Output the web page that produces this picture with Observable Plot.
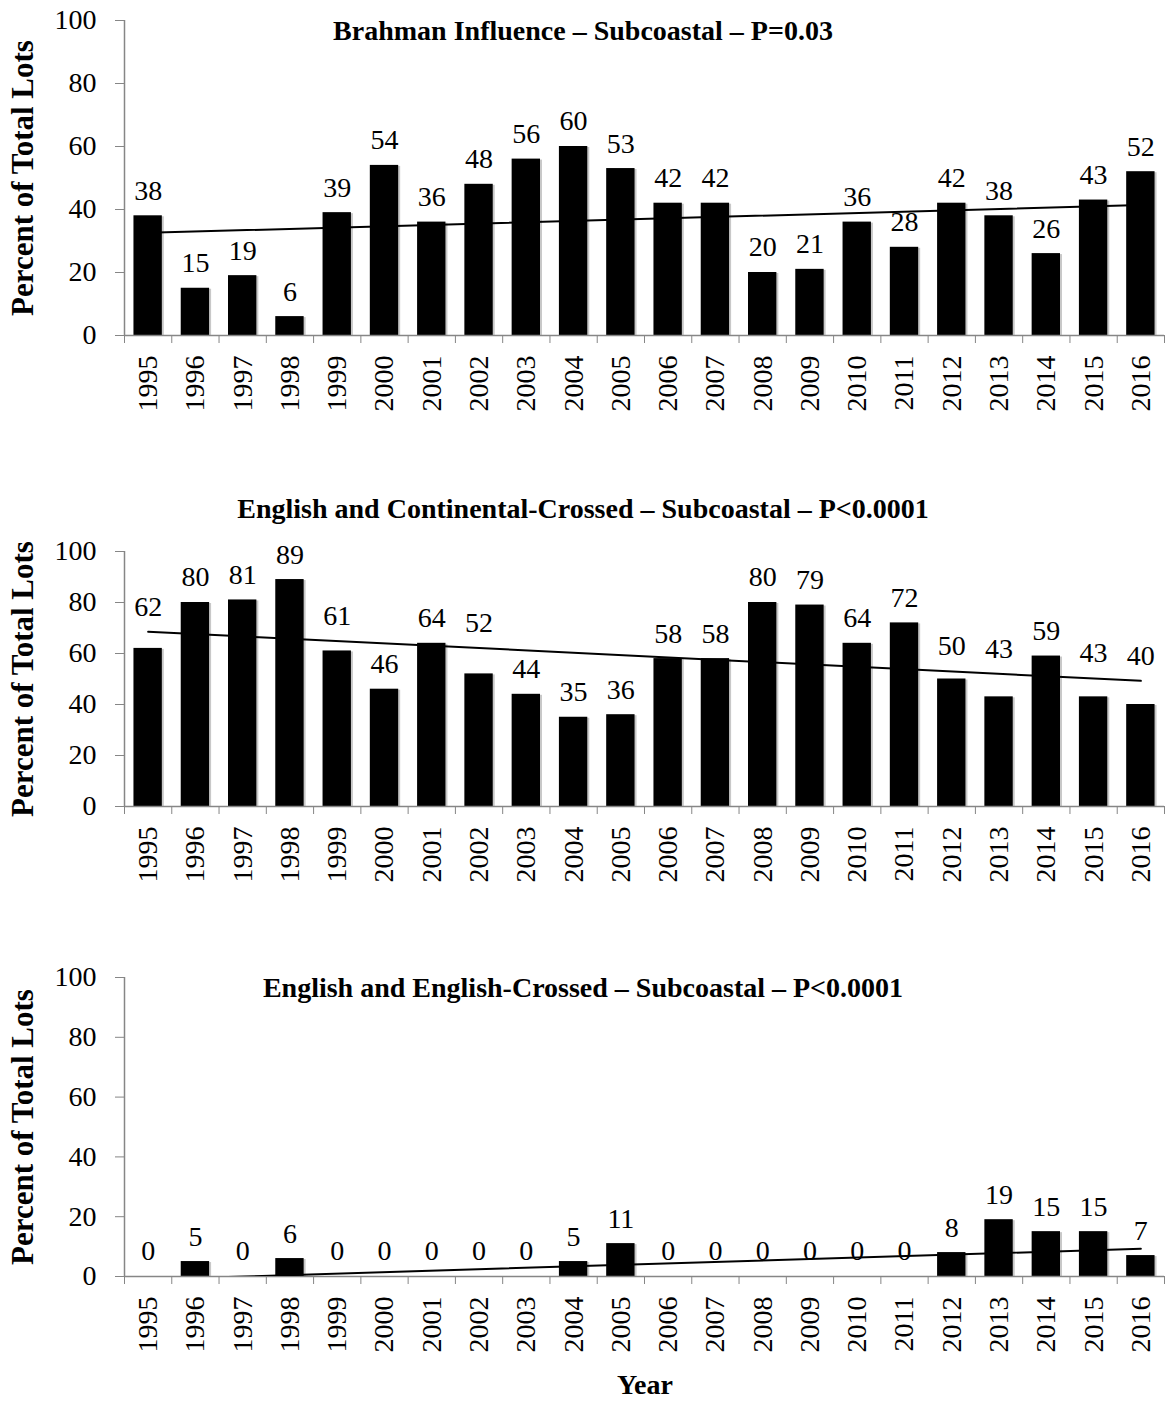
<!DOCTYPE html>
<html><head><meta charset="utf-8">
<script src="https://cdn.jsdelivr.net/npm/d3@7"></script>
<script src="https://cdn.jsdelivr.net/npm/@observablehq/plot@0.6"></script>
<style>
body{margin:0;background:#fff;}
#root{position:relative;width:1166px;height:1402px;overflow:hidden;font-family:'Liberation Serif','Times New Roman',serif;background:#fff;}
.title{position:absolute;left:0;width:1166px;text-align:center;font-weight:bold;font-size:28px;line-height:28px;white-space:nowrap;color:#000;}
.panel{position:absolute;left:0;}
.panel text{font-family:'Liberation Serif','Times New Roman',serif !important;}
</style></head><body><div id="root"></div>
<script>
const years = [1995,1996,1997,1998,1999,2000,2001,2002,2003,2004,2005,2006,2007,2008,2009,2010,2011,2012,2013,2014,2015,2016];
const brahman = [38,15,19,6,39,54,36,48,56,60,53,42,42,20,21,36,28,42,38,26,43,52];
const continental = [62,80,81,89,61,46,64,52,44,35,36,58,58,80,79,64,72,50,43,59,43,40];
const english = [0,5,0,6,0,0,0,0,0,5,11,0,0,0,0,0,0,8,19,15,15,7];
const titles = [
  "Brahman Influence \u2013 Subcoastal \u2013 P=0.03",
  "English and Continental-Crossed \u2013 Subcoastal \u2013 P<0.0001",
  "English and English-Crossed \u2013 Subcoastal \u2013 P<0.0001"
];
const yTicks = [0,20,40,60,80,100];
const yLabel = "Percent of Total Lots";
const xLabel = "Year";

const FONT = "Liberation Serif";
const GRAY = "#868686";
const LABEL_GAP = 25;      // px between bar top and value label centre
const AVOID_GAP = 18;      // px: labels closer than this to the trend line are lifted above it

function fitLine(data) {
  const mx = d3.mean(data, d => d.year), my = d3.mean(data, d => d.value);
  const sxy = d3.sum(data, d => (d.year - mx) * (d.value - my));
  const sxx = d3.sum(data, d => (d.year - mx) ** 2);
  const b = sxy / sxx;
  return x => my + b * (x - mx);
}

function panel(values, plotHeight, avoidTrend) {
  const data = years.map((year, i) => ({year, value: values[i]}));
  const lo = years[0] - 0.5, hi = years[years.length - 1] + 0.5;
  const bounds = d3.range(lo, hi + 0.5, 1);
  const pxPerUnit = plotHeight / 100;
  const trend = fitLine(data);
  const labels = data.map(d => {
    let ly = d.value + LABEL_GAP / pxPerUnit;
    const t = trend(d.year);
    if (avoidTrend && Math.abs(ly - t) * pxPerUnit < AVOID_GAP) ly = t + LABEL_GAP / pxPerUnit;
    return {year: d.year, value: d.value, ly};
  });
  return Plot.plot({
    width: 1166,
    height: 20 + plotHeight + 100,
    marginTop: 20, marginBottom: 100, marginLeft: 124, marginRight: 2,
    style: {fontFamily: FONT, fontSize: "28px", color: "black", background: "white", overflow: "visible"},
    x: {type: "linear", domain: [lo, hi]},
    y: {domain: [0, 100]},
    marks: [
      Plot.rectY(data, {x1: d => d.year - 0.3, x2: d => d.year + 0.3, y: "value", fill: "#c8c8c8", dx: 2, dy: 1}),
      Plot.rectY(data, {x1: d => d.year - 0.3, x2: d => d.year + 0.3, y: "value", fill: "black"}),
      Plot.ruleY([0], {stroke: GRAY, strokeWidth: 1.5}),
      Plot.ruleX([lo], {stroke: GRAY, strokeWidth: 1.5}),
      Plot.axisY({ticks: yTicks, tickSize: 9, tickPadding: 19, stroke: GRAY, fill: "black", label: null, fontSize: 28, fontFamily: FONT}),
      Plot.axisX({ticks: bounds, tickSize: 8, tickFormat: () => "", stroke: GRAY, label: null}),
      Plot.axisX({ticks: years, tickSize: 0, tickPadding: 20, tickRotate: -90, tickFormat: d => String(d), fill: "black", label: null, fontSize: 28, fontFamily: FONT}),
      Plot.linearRegressionY(data, {x: "year", y: "value", ci: 0, stroke: "black", strokeWidth: 2, clip: true}),
      Plot.text(labels, {x: "year", y: "ly", text: d => String(d.value), fontSize: 28, fontFamily: FONT, fill: "black"}),
      Plot.text([yLabel], {frameAnchor: "left", rotate: -90, textAnchor: "middle", dx: -101, fontWeight: "bold", fontSize: 31, fontFamily: FONT, fill: "black"})
    ]
  });
}

const root = document.getElementById("root");
const layout = [
  {values: brahman, plotHeight: 315, top: 0, titleTop: 17, avoid: false},
  {values: continental, plotHeight: 255, top: 531, titleTop: 495, avoid: true},
  {values: english, plotHeight: 299, top: 957, titleTop: 974, avoid: false}
];
layout.forEach((p, i) => {
  const svg = panel(p.values, p.plotHeight, p.avoid);
  svg.classList.add("panel");
  svg.style.top = p.top + "px";
  root.appendChild(svg);
  const t = document.createElement("div");
  t.className = "title";
  t.style.top = p.titleTop + "px";
  t.textContent = titles[i];
  root.appendChild(t);
});
const xl = document.createElement("div");
xl.className = "title";
xl.style.top = "1373px";
xl.style.left = "62px";
xl.style.lineHeight = "24px";
xl.textContent = xLabel;
root.appendChild(xl);
</script>
</body></html>
